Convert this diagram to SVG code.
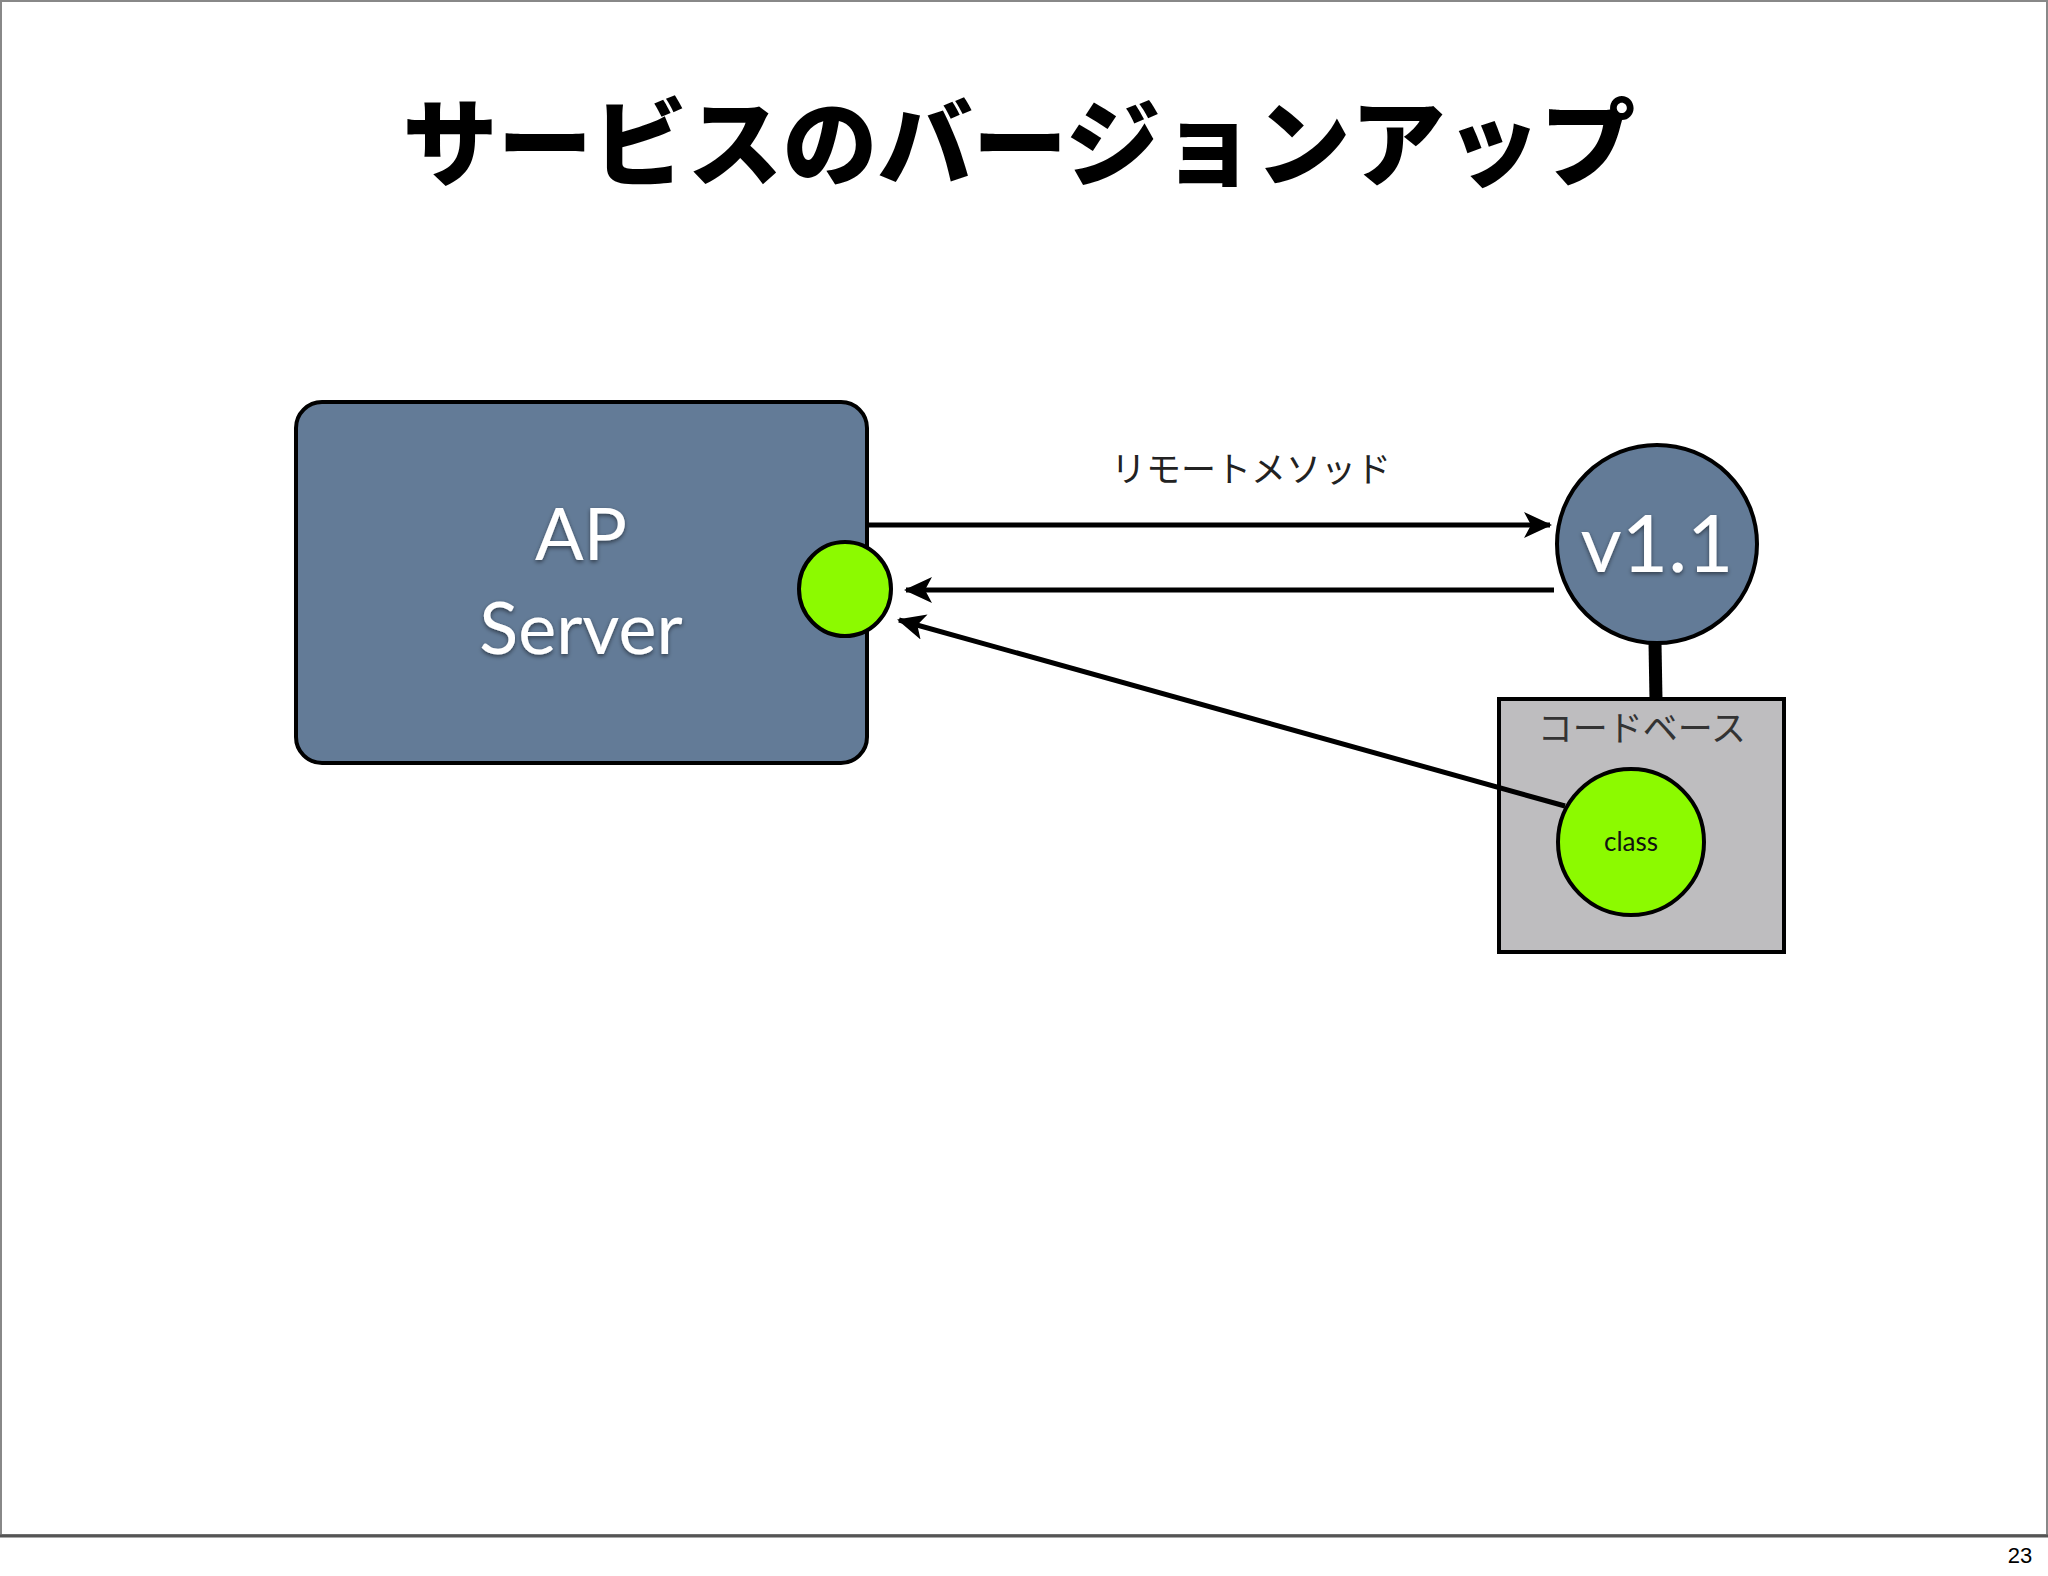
<svg xmlns="http://www.w3.org/2000/svg" width="2048" height="1576" viewBox="0 0 2048 1576">
<defs>
<marker id="ah" markerWidth="30" markerHeight="26" refX="26" refY="13" orient="auto" markerUnits="userSpaceOnUse" viewBox="0 0 30 26">
<path d="M0,0 L28,13 L0,26 L7,13 Z" fill="#000"/>
</marker>
<filter id="sh" x="-10%" y="-10%" width="120%" height="130%"><feDropShadow dx="0" dy="2" stdDeviation="2" flood-color="#000" flood-opacity="0.5"/></filter>
</defs>
<style>
.blue{fill:#637b97;stroke:#000;stroke-width:4}
.green{fill:#8cfa00;stroke:#000;stroke-width:4}
.wt{fill:#fff;font-family:Lato,"Open Sans",sans-serif;text-anchor:middle;filter:url(#sh)}
.jp{font-family:"Noto Sans CJK JP",sans-serif;text-anchor:middle}
.ln{stroke:#000;stroke-width:5;fill:none}
</style>
<rect x="0" y="0" width="2048" height="1576" fill="#fff"/>
<rect x="1" y="1" width="2046" height="1534" fill="none" stroke="#888" stroke-width="2"/>
<line x1="0" y1="1536" x2="2048" y2="1536" stroke="#555" stroke-width="3"/>
<text x="2020" y="1563" font-family="Liberation Sans,sans-serif" font-size="22" text-anchor="middle">23</text>
<text x="1019" y="179" class="jp" font-size="95" font-weight="900">サービスのバージョンアップ</text>
<g id="apserver">
<rect class="blue" x="296" y="402" width="571" height="361" rx="26"/>
<text class="wt" x="581" y="560" font-size="72">AP</text>
<text class="wt" x="581" y="654" font-size="72">Server</text>
</g>
<g id="port"><ellipse class="green" cx="845" cy="589" rx="46" ry="47"/></g>
<g id="codebase">
<rect x="1499" y="699" width="285" height="253" fill="#bebdbf" stroke="#000" stroke-width="4"/>
<text x="1642" y="741" class="jp" font-size="35" fill="#333">コードベース</text>
</g>
<g id="connectors">
<line class="ln" x1="869" y1="525" x2="1550" y2="525" marker-end="url(#ah)"/>
<line class="ln" x1="1554" y1="590" x2="906" y2="590" marker-end="url(#ah)"/>
<line class="ln" x1="1565" y1="806" x2="899" y2="620" marker-end="url(#ah)"/>
<line x1="1655" y1="643" x2="1656" y2="700" stroke="#000" stroke-width="13"/>
<text x="1251" y="482" class="jp" font-size="35" fill="#222">リモートメソッド</text>
</g>
<g id="v11">
<ellipse class="blue" cx="1657" cy="544" rx="100" ry="99"/>
<text class="wt" x="1657" y="572" font-size="80">v1.1</text>
</g>
<g id="class">
<circle class="green" cx="1631" cy="842" r="73"/>
<text x="1631" y="851" font-family="Lato,sans-serif" font-size="26" text-anchor="middle" fill="#111">class</text>
</g>
</svg>
